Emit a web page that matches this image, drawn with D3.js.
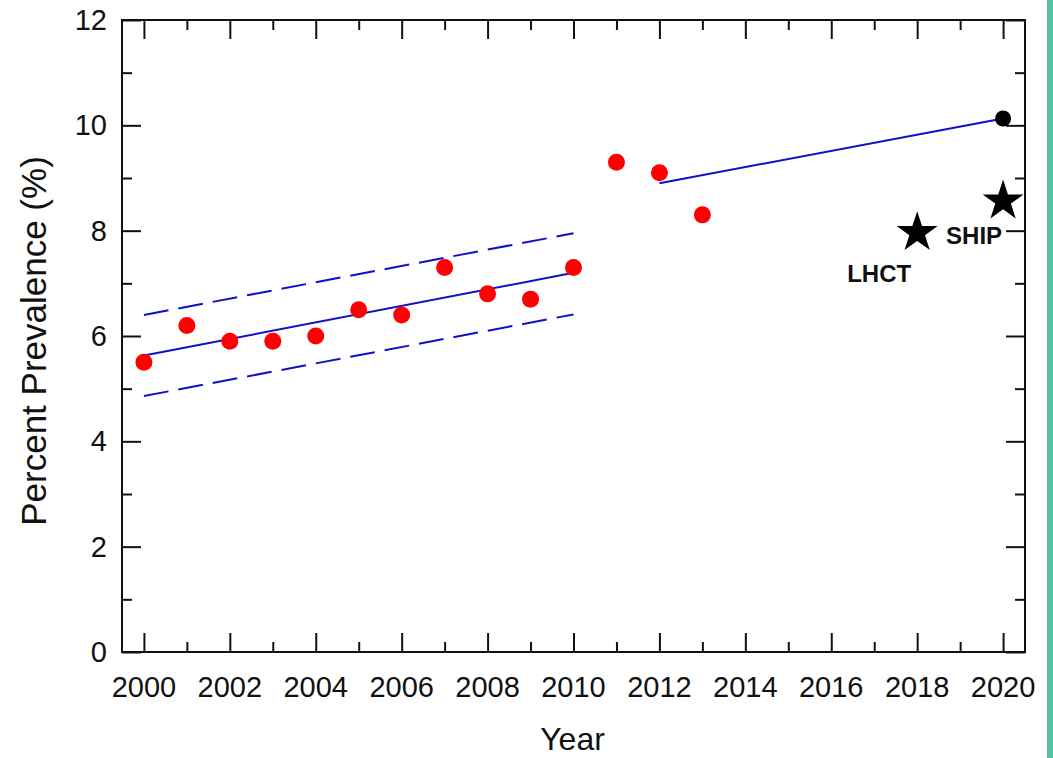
<!DOCTYPE html>
<html>
<head>
<meta charset="utf-8">
<script src="https://cdn.jsdelivr.net/npm/d3@7"></script>
<style>
  body { margin: 0; background: #fff; }
  svg { display: block; font-family: Arial, "Liberation Sans", sans-serif; }
</style>
</head>
<body>
<div id="chart"></div>
<script>
let width = 1053, height = 758;
let margin = {top: 20, right: 28, bottom: 105, left: 122};

// survey years and prevalence (%)
let years = [2000, 2001, 2002, 2003, 2004, 2005, 2006, 2007, 2008, 2009, 2010, 2011, 2012, 2013];
let prevalence = [5.5, 6.2, 5.9, 5.9, 6.0, 6.5, 6.4, 7.3, 6.8, 6.7, 7.3, 9.3, 9.1, 8.3];

// fitted trend 2000-2010 with confidence band
let fitYears = [2000, 2010];
let fitLine = [5.63, 7.2];
let fitUpper = [6.4, 7.95];
let fitLower = [4.86, 6.41];

// second trend 2012-2020
let trend2Years = [2012, 2020];
let trend2 = [8.9, 10.13];

// projected point
let projYear = [2020];
let projValue = [10.13];

// other surveys (stars)
let starNames = ["LHCT", "SHIP"];
let starYears = [2018, 2020];
let starValues = [8.0, 8.6];

let xMajor = d3.range(2000, 2021, 2);
let xMinor = d3.range(2001, 2020, 2);
let yMajor = [0, 2, 4, 6, 8, 10, 12];
let yMinor = [1, 3, 5, 7, 9, 11];

let svg = d3.select("#chart").append("svg")
    .attr("width", width)
    .attr("height", height);

// teal strip at the right edge
svg.append("rect")
    .attr("x", 1047).attr("y", 0)
    .attr("width", 6).attr("height", height)
    .attr("fill", "#55c3a3");

let x = d3.scaleLinear()
    .domain([1999.49, 2020.51])
    .range([margin.left, width - margin.right]);

let y = d3.scaleLinear()
    .domain([0, 12])
    .range([height - margin.bottom - 1, margin.top]);

let x0 = x.range()[0], x1 = x.range()[1];
let y0 = y.range()[0], y1 = y.range()[1];

let axisColor = "#111";

// bottom axis with labels
svg.append("g")
    .attr("transform", `translate(0,${y0})`)
    .call(d3.axisTop(x).tickValues(xMajor).tickSize(19).tickFormat(""))
    .call(g => g.select(".domain").remove());
svg.append("g")
    .attr("transform", `translate(0,${y0})`)
    .call(d3.axisTop(x).tickValues(xMinor).tickSize(10).tickFormat(""))
    .call(g => g.select(".domain").remove());
svg.append("g")
    .attr("transform", `translate(0,${y0})`)
    .selectAll("text")
    .data(xMajor)
    .enter().append("text")
    .attr("x", d => x(d))
    .attr("y", 45)
    .attr("text-anchor", "middle")
    .attr("font-size", 29)
    .attr("fill", axisColor)
    .text(d => d);

// top axis (mirror ticks)
svg.append("g")
    .attr("transform", `translate(0,${y1})`)
    .call(d3.axisBottom(x).tickValues(xMajor).tickSize(19).tickFormat(""))
    .call(g => g.select(".domain").remove());
svg.append("g")
    .attr("transform", `translate(0,${y1})`)
    .call(d3.axisBottom(x).tickValues(xMinor).tickSize(10).tickFormat(""))
    .call(g => g.select(".domain").remove());

// left axis
svg.append("g")
    .attr("transform", `translate(${x0},0)`)
    .call(d3.axisRight(y).tickValues(yMajor).tickSize(19).tickFormat(""))
    .call(g => g.select(".domain").remove());
svg.append("g")
    .attr("transform", `translate(${x0},0)`)
    .call(d3.axisRight(y).tickValues(yMinor).tickSize(10).tickFormat(""))
    .call(g => g.select(".domain").remove());
svg.append("g")
    .selectAll("text")
    .data(yMajor)
    .enter().append("text")
    .attr("x", x0 - 15)
    .attr("y", d => y(d) + 10)
    .attr("text-anchor", "end")
    .attr("font-size", 29)
    .attr("fill", axisColor)
    .text(d => d);

// right axis (mirror ticks)
svg.append("g")
    .attr("transform", `translate(${x1},0)`)
    .call(d3.axisLeft(y).tickValues(yMajor).tickSize(19).tickFormat(""))
    .call(g => g.select(".domain").remove());
svg.append("g")
    .attr("transform", `translate(${x1},0)`)
    .call(d3.axisLeft(y).tickValues(yMinor).tickSize(10).tickFormat(""))
    .call(g => g.select(".domain").remove());

svg.selectAll(".tick line")
    .attr("stroke", axisColor)
    .attr("stroke-width", 2);

// frame
svg.append("rect")
    .attr("x", x0).attr("y", y1)
    .attr("width", x1 - x0).attr("height", y0 - y1)
    .attr("fill", "none")
    .attr("stroke", axisColor)
    .attr("stroke-width", 2);

// axis titles
svg.append("text")
    .attr("x", (x0 + x1) / 2 - 1)
    .attr("y", 750)
    .attr("text-anchor", "middle")
    .attr("font-size", 32)
    .attr("fill", axisColor)
    .text("Year");

svg.append("text")
    .attr("transform", `translate(46,${(y0 + y1) / 2 + 5}) rotate(-90)`)
    .attr("text-anchor", "middle")
    .attr("font-size", 35)
    .attr("fill", axisColor)
    .text("Percent Prevalence (%)");

// trend lines
let line = d3.line()
    .x(d => x(d[0]))
    .y(d => y(d[1]));

let blue = "#1010c8";

svg.append("path")
    .attr("d", line(d3.zip(fitYears, fitLine)))
    .attr("fill", "none").attr("stroke", blue).attr("stroke-width", 2);
svg.append("path")
    .attr("d", line(d3.zip(fitYears, fitUpper)))
    .attr("fill", "none").attr("stroke", blue).attr("stroke-width", 2)
    .attr("stroke-dasharray", "25,10");
svg.append("path")
    .attr("d", line(d3.zip(fitYears, fitLower)))
    .attr("fill", "none").attr("stroke", blue).attr("stroke-width", 2)
    .attr("stroke-dasharray", "25,10");
svg.append("path")
    .attr("d", line(d3.zip(trend2Years, trend2)))
    .attr("fill", "none").attr("stroke", blue).attr("stroke-width", 2);

// red survey points
svg.append("g")
    .selectAll("circle")
    .data(d3.zip(years, prevalence))
    .enter().append("circle")
    .attr("cx", d => x(d[0]))
    .attr("cy", d => y(d[1]))
    .attr("r", 8.5)
    .attr("fill", "#ff0000");

// black projection point
svg.append("g")
    .selectAll("circle")
    .data(d3.zip(projYear, projValue))
    .enter().append("circle")
    .attr("cx", d => x(d[0]))
    .attr("cy", d => y(d[1]))
    .attr("r", 8)
    .attr("fill", "#000");

// stars
let star = d3.symbol().type(d3.symbolStar).size(520);
svg.append("g")
    .selectAll("path")
    .data(d3.zip(starYears, starValues))
    .enter().append("path")
    .attr("d", star)
    .attr("transform", d => `translate(${x(d[0])},${y(d[1]) + 2})`)
    .attr("fill", "#000");

// star labels
let labelOffsets = [[-70, 51], [-57, 45]];
svg.append("g")
    .selectAll("text")
    .data(starNames)
    .enter().append("text")
    .attr("x", (d, i) => x(starYears[i]) + labelOffsets[i][0])
    .attr("y", (d, i) => y(starValues[i]) + labelOffsets[i][1])
    .attr("font-size", 24)
    .attr("font-weight", "bold")
    .attr("fill", "#111")
    .text(d => d);
</script>
</body>
</html>
